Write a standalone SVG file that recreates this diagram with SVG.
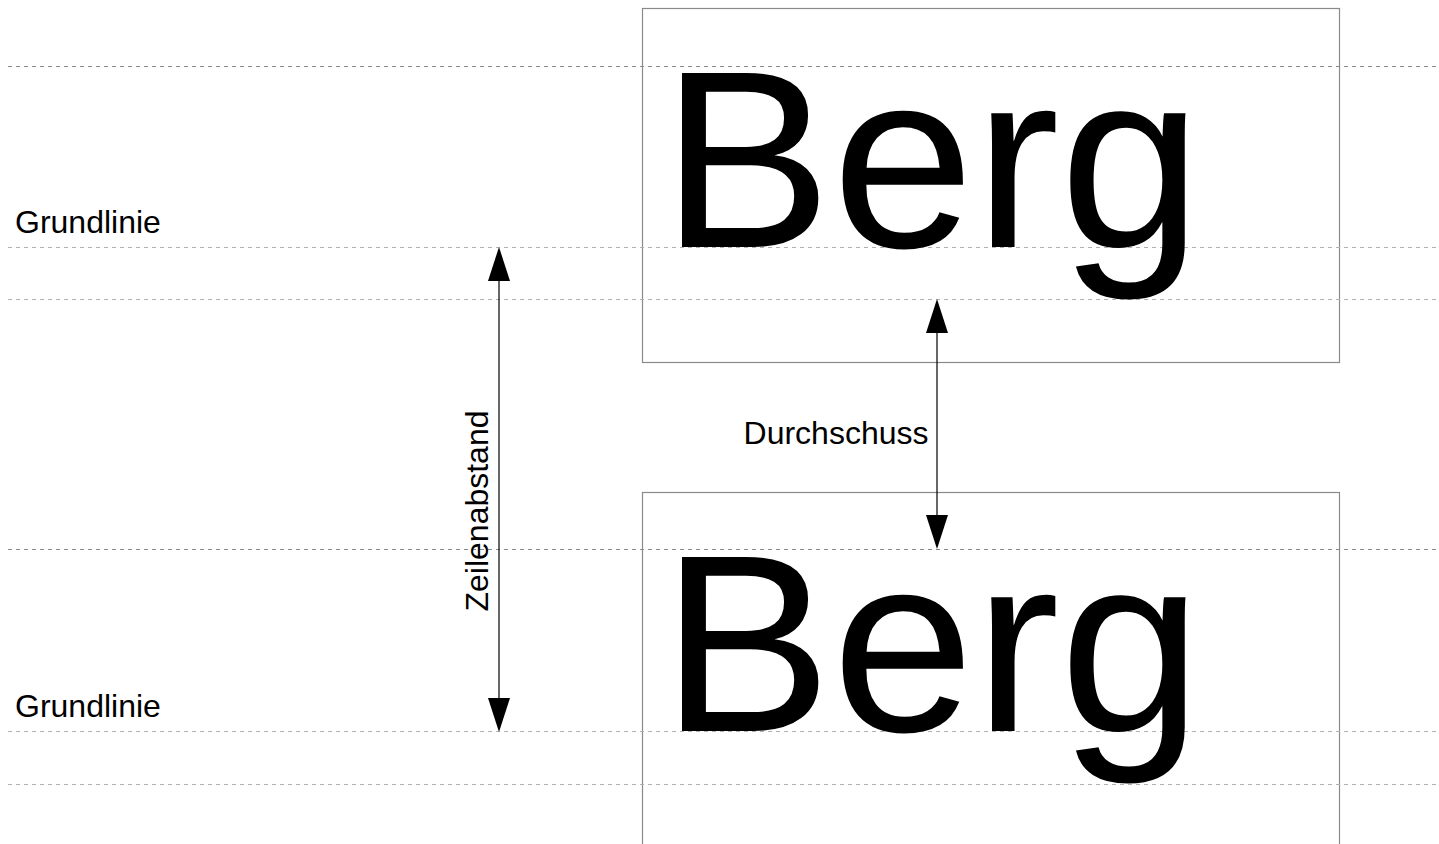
<svg xmlns="http://www.w3.org/2000/svg" width="1439" height="844" viewBox="0 0 1439 844">
  <style>
    .guide-dark { stroke: #8a8a8a; stroke-width: 1; stroke-dasharray: 4 4; fill: none; }
    .guide-light { stroke: #b0b0b0; stroke-width: 1; stroke-dasharray: 4 4; fill: none; }
    .frame { fill: none; stroke: #8a8a8a; stroke-width: 1.2; }
    .big { font-family: "Liberation Sans", Arial, sans-serif; font-size: 253px; fill: #000; }
    .label { font-family: "Liberation Sans", Arial, sans-serif; font-size: 32px; fill: #000; }
    .dim { stroke: #000; stroke-width: 1.2; fill: none; }
    .head { fill: #000; }
  </style>

  <!-- text frames -->
  <g id="frame-top">
    <rect class="frame" x="642.5" y="8.5" width="697" height="354"/>
  </g>
  <g id="frame-bottom">
    <rect class="frame" x="642.5" y="492.5" width="697" height="360"/>
  </g>

  <!-- guide lines: cap height, baseline, descender for each line -->
  <g id="guides">
    <line class="guide-dark" x1="8" y1="66.5" x2="1439" y2="66.5"/>
    <line class="guide-light" x1="8" y1="247.5" x2="1439" y2="247.5"/>
    <line class="guide-light" x1="8" y1="299.5" x2="1439" y2="299.5"/>
    <line class="guide-dark" x1="8" y1="549.5" x2="1439" y2="549.5"/>
    <line class="guide-light" x1="8" y1="731.5" x2="1439" y2="731.5"/>
    <line class="guide-light" x1="8" y1="784.5" x2="1439" y2="784.5"/>
  </g>

  <!-- sample words -->
  <g id="word-top">
    <text class="big" x="661" y="247" textLength="541" lengthAdjust="spacingAndGlyphs">Berg</text>
  </g>
  <g id="word-bottom">
    <text class="big" x="661" y="731" textLength="541" lengthAdjust="spacingAndGlyphs">Berg</text>
  </g>

  <!-- labels -->
  <g id="label-baseline-top">
    <text class="label" x="15" y="233">Grundlinie</text>
  </g>
  <g id="label-baseline-bottom">
    <text class="label" x="15" y="717">Grundlinie</text>
  </g>
  <g id="label-leading">
    <text class="label" x="836" y="444" text-anchor="middle">Durchschuss</text>
  </g>
  <g id="label-line-spacing">
    <text class="label" transform="translate(488 511) rotate(-90)" x="0" y="0" text-anchor="middle">Zeilenabstand</text>
  </g>

  <!-- dimension arrows -->
  <g id="connectors">
    <line class="dim" x1="499" y1="280" x2="499" y2="699"/>
    <polygon class="head" points="499,247 488,281 510,281"/>
    <polygon class="head" points="499,732 488,698 510,698"/>

    <line class="dim" x1="937" y1="332" x2="937" y2="516"/>
    <polygon class="head" points="937,299 926,333 948,333"/>
    <polygon class="head" points="937,549 926,515 948,515"/>
  </g>
</svg>
